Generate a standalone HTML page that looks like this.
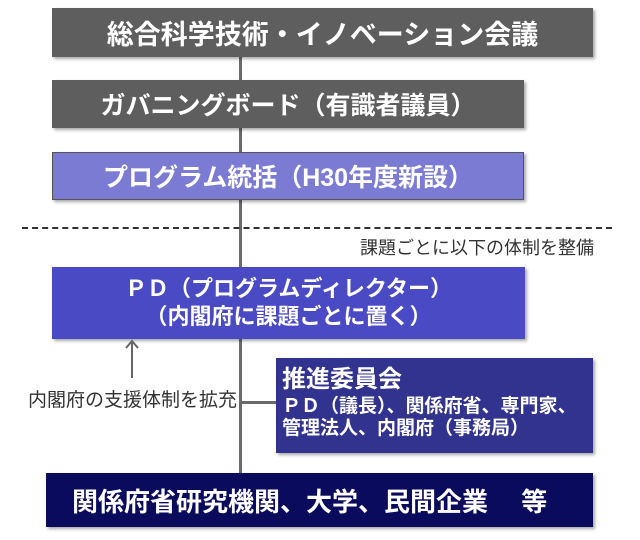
<!DOCTYPE html>
<html><head><meta charset="utf-8"><style>
body{margin:0;width:640px;height:540px;background:#fff;position:relative;overflow:hidden;font-family:"Liberation Sans","Noto Sans CJK JP",sans-serif;}
.b{position:absolute;color:#fff;box-shadow:2px 2px 3px rgba(0,0,0,0.35);display:flex;align-items:center;justify-content:center;font-weight:bold;white-space:nowrap;}
.t{position:absolute;color:#333;white-space:nowrap;}
</style></head><body>
<div style="position:absolute;left:239px;top:57px;width:3px;height:416px;background:#6a6a6a"></div>
<div style="position:absolute;left:240px;top:401px;width:36px;height:3px;background:#6a6a6a"></div>
<div style="position:absolute;left:22px;top:227px;width:590px;border-top:2px dashed #333"></div>
<div class="b" style="left:52px;top:8px;width:541px;height:49px;background:#5e5e5e;font-size:27px;">総合科学技術・イノベーション会議</div>
<div class="b" style="left:52px;top:80px;width:472px;height:48px;background:#5e5e5e;font-size:25px;">ガバニングボード（有識者議員）</div>
<div class="b" style="left:52px;top:152px;width:472px;height:48px;background:#7b7bd4;font-size:25px;border:1px solid #555;box-sizing:border-box;">プログラム統括（H30年度新設）</div>
<div class="t" style="left:360px;top:234px;font-size:18px;">課題ごとに以下の体制を整備</div>
<div class="b" style="left:52px;top:267px;width:473px;height:72px;background:#4a4ac4;font-size:22px;flex-direction:column;line-height:28px;">
<div>ＰＤ（プログラムディレクター）</div><div>（内閣府に課題ごとに置く）</div></div>
<svg style="position:absolute;left:122px;top:338px" width="20" height="42"><line x1="10" y1="3" x2="10" y2="40" stroke="#666" stroke-width="2"/><polyline points="4,10 10,3 16,10" fill="none" stroke="#666" stroke-width="2"/></svg>
<div class="t" style="left:28px;top:385px;font-size:19px;">内閣府の支援体制を拡充</div>
<div class="b" style="left:276px;top:358px;width:317px;height:95px;background:#32328f;display:block;padding:6px 0 0 6px;box-sizing:border-box;font-size:19px;line-height:22px;">
<div style="font-size:24px;line-height:32px;">推進委員会</div>
<div>ＰＤ（議長）、関係府省、専門家、</div><div>管理法人、内閣府（事務局）</div></div>
<div class="b" style="left:46px;top:473px;width:547px;height:54px;background:#0b0b5e;font-size:26px;justify-content:flex-start;padding-left:26px;box-sizing:border-box;">関係府省研究機関、大学、民間企業　 等</div>
</body></html>
